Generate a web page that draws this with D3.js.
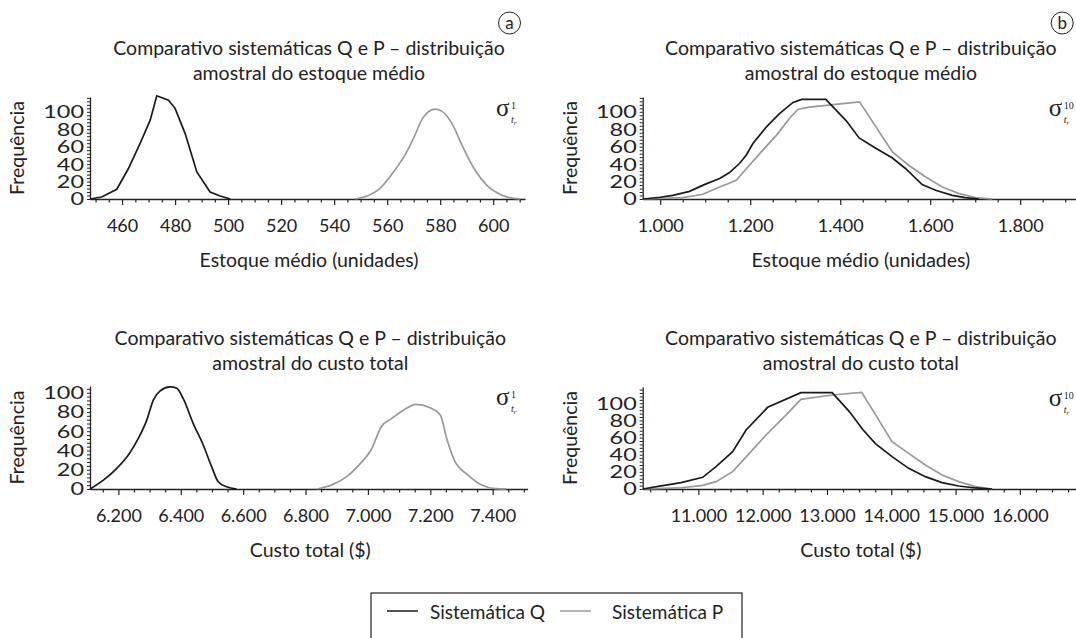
<!DOCTYPE html>
<html>
<head>
<meta charset="utf-8">
<script src="https://cdn.jsdelivr.net/npm/d3@7"></script>
<style>
  body { margin: 0; background: #fff; }
  svg { display: block; font-family: Lato, "Open Sans", sans-serif; }
</style>
</head>
<body>
<svg id="chart" width="1076" height="638"></svg>
<script>
// [valor, frequência]
const estoqueQ1 = [[447.9, 0], [452.3, 2.3], [458, 11.2], [462.4, 35], [466.8, 63.7], [470.6, 90.5], [473.1, 118.4], [477.5, 113.4], [480, 104], [483.8, 75], [488.2, 31], [493.2, 8], [497, 3.4], [500.8, 0]];
const estoqueP1 = [[548, 0], [552, 3], [557.4, 12.6], [562.4, 31], [567.4, 54], [569.9, 69.4], [573.7, 94], [578.1, 103], [580.6, 100.8], [584.4, 86.7], [588.8, 58], [593.2, 33], [597.6, 15.7], [602, 6.2], [606.4, 1.2], [610.2, 0]];

const estoqueQ10 = [[961, 0], [1000, 2], [1028, 4.2], [1065, 8.8], [1098, 16.5], [1132, 23.4], [1154, 30.3], [1176, 40.7], [1191, 50.2], [1206, 63.7], [1236, 82.8], [1265, 98], [1295, 110.8], [1314, 114.2], [1368, 114.2], [1413, 90], [1442, 70], [1478, 58.6], [1516, 47], [1545, 35], [1582, 16.5], [1612, 10], [1649, 4.2], [1678, 1.6], [1708, 0]];
const estoqueP10 = [[961, 0], [1050, 1.5], [1095, 5.4], [1124, 12], [1169, 21.5], [1198, 38.7], [1228, 56], [1258, 73], [1287, 92.4], [1306, 103], [1332, 105.4], [1390, 108.5], [1443, 111.5], [1516, 54], [1552, 38.7], [1590, 25.3], [1627, 13.8], [1664, 6.2], [1701, 1.6], [1738, 0]];

const custoQ1 = [[6109, 0], [6152, 9.3], [6195, 21.5], [6232, 35.3], [6264, 52.6], [6291, 71.6], [6312, 92.4], [6334, 102], [6366, 106], [6387, 104.6], [6408, 93.9], [6440, 68], [6472, 45.7], [6499, 23.2], [6520, 7.6], [6547, 2.4], [6579, 0]];
const custoP1 = [[6837, 0], [6888, 4.8], [6932, 12.8], [6976, 26.6], [7010, 40.5], [7043, 64.7], [7077, 73.4], [7115, 82], [7154, 88], [7199, 84.5], [7232, 76.8], [7254, 50.9], [7277, 30], [7321, 14.5], [7365, 4.2], [7410, 0.3], [7443, 0]];

const custoQ10 = [[10134, 0], [10445, 3.9], [10731, 7.4], [11067, 13.6], [11275, 26], [11533, 43.5], [11742, 68.8], [12078, 95.3], [12594, 112.4], [13081, 112.4], [13351, 90], [13550, 70], [13753, 53], [14012, 37.7], [14271, 24.1], [14530, 14.4], [14790, 7.4], [15048, 3.5], [15308, 1.2], [15568, 0]];
const custoP10 = [[10134, 0], [10705, 1.2], [11067, 4.3], [11275, 8.6], [11533, 20.2], [11793, 41.6], [12053, 63], [12415, 90.2], [12594, 104.6], [13081, 109.7], [13540, 112.8], [14012, 55.2], [14271, 41.6], [14530, 28], [14790, 16.3], [15048, 8.6], [15308, 2.7], [15568, 0]];

const ticksEstoque1 = d3.range(460, 601, 20);
const ticksEstoque10 = d3.range(1000, 1801, 200);
const ticksCusto1 = d3.range(6200, 7401, 200);
const ticksCusto10 = d3.range(11000, 16001, 1000);
const freqTicks = [0, 20, 40, 60, 80, 100];

const titleLine1 = 'Comparativo sistemáticas Q e P – distribuição';
const series = ['Sistemática Q', 'Sistemática P'];
const colorQ = '#1a1a1a';
const colorP = '#999999';

const ptBR = d3.formatLocale({ decimal: ',', thousands: '.', grouping: [3], currency: ['R$', ''] });
const fmt = ptBR.format(',d');

const panels = [
  { tag: 'a', sup: '1', line2: 'amostral do estoque médio', xLabel: 'Estoque médio (unidades)',
    q: estoqueQ1, p: estoqueP1, domain: [447.9, 612], left: 90, right: 525, top: 97, bottom: 199, yMax: 117,
    major: ticksEstoque1, minorStep: 5, smoothQ: false, smoothP: true },
  { tag: 'b', sup: '10', line2: 'amostral do estoque médio', xLabel: 'Estoque médio (unidades)',
    q: estoqueQ10, p: estoqueP10, domain: [961, 1924], left: 642.7, right: 1076, top: 97, bottom: 199, yMax: 117,
    major: ticksEstoque10, minorStep: 50, smoothQ: false, smoothP: false },
  { tag: null, sup: '1', line2: 'amostral do custo total', xLabel: 'Custo total ($)',
    q: custoQ1, p: custoP1, domain: [6109, 7512], left: 90, right: 527.6, top: 386, bottom: 489, yMax: 107,
    major: ticksCusto1, minorStep: 50, smoothQ: true, smoothP: true },
  { tag: null, sup: '10', line2: 'amostral do custo total', xLabel: 'Custo total ($)',
    q: custoQ10, p: custoP10, domain: [10134, 16873], left: 642.7, right: 1076, top: 387, bottom: 489, yMax: 119,
    major: ticksCusto10, minorStep: 250, smoothQ: false, smoothP: false },
];

const svg = d3.select('#chart');
const ink = '#222';

panels.forEach((pn) => {
  const g = svg.append('g');
  const x = d3.scaleLinear().domain(pn.domain).range([pn.left, pn.right]);
  const y = d3.scaleLinear().domain([0, pn.yMax]).range([pn.bottom, pn.top]);
  const cx = (pn.left + pn.right) / 2 + 1.5;

  // titles
  g.append('text').attr('x', cx).attr('y', pn.bottom - 144).attr('text-anchor', 'middle')
    .attr('font-size', 19.5).attr('fill', ink).text(titleLine1);
  g.append('text').attr('x', cx).attr('y', pn.bottom - 119).attr('text-anchor', 'middle')
    .attr('font-size', 19.5).attr('fill', ink).text(pn.line2);

  if (pn.tag) {
    const tx = pn.left + 419.5;
    g.append('circle').attr('cx', tx).attr('cy', 23).attr('r', 11)
      .attr('fill', 'none').attr('stroke', ink).attr('stroke-width', 1);
    g.append('text').attr('x', tx).attr('y', 29).attr('text-anchor', 'middle')
      .attr('font-size', 17).attr('fill', ink).text(pn.tag);
  }

  // x axis: minor then major
  const lo = Math.ceil(pn.domain[0] / pn.minorStep) * pn.minorStep;
  const minor = d3.range(lo, pn.domain[1], pn.minorStep).filter((v) => !pn.major.includes(v));
  const xMinor = g.append('g').attr('transform', `translate(0,${pn.bottom})`)
    .call(d3.axisBottom(x).tickValues(minor).tickSize(3.5).tickFormat(''));
  xMinor.select('.domain').remove();
  const xMajor = g.append('g').attr('transform', `translate(0,${pn.bottom})`)
    .call(d3.axisBottom(x).tickValues(pn.major).tickSize(6).tickSizeOuter(0).tickFormat(fmt));
  xMajor.selectAll('text').attr('y', 33).attr('dy', 0).attr('font-size', 18)
    .attr('font-family', 'Lato, sans-serif').attr('fill', ink);
  g.selectAll('.tick line').attr('stroke', ink).attr('stroke-width', 1.2);
  xMajor.select('.domain').attr('stroke', ink).attr('stroke-width', 1.3);

  // y axis
  const yAx = g.append('g').attr('transform', `translate(${pn.left},0)`)
    .call(d3.axisLeft(y).tickValues(d3.range(0, pn.yMax, 4)).tickSize(3).tickSizeOuter(0).tickFormat(''));
  yAx.select('.domain').attr('stroke', ink).attr('stroke-width', 1.3);
  yAx.selectAll('.tick line').attr('stroke', ink).attr('stroke-width', 1);
  freqTicks.forEach((v) => {
    g.append('g').attr('transform', `translate(${pn.left - 6},${y(v)}) scale(1.3,1)`)
      .append('text').attr('text-anchor', 'end').attr('dy', '0.36em')
      .attr('font-size', 18).attr('fill', ink).text(v);
  });

  g.append('text')
    .attr('transform', `translate(${pn.left - 66},${(pn.top + pn.bottom) / 2}) rotate(-90)`)
    .attr('text-anchor', 'middle').attr('font-size', 19.5).attr('fill', ink).text('Frequência');

  g.append('text').attr('x', cx).attr('y', pn.bottom + 68).attr('text-anchor', 'middle')
    .attr('font-size', 19.5).attr('fill', ink).text(pn.xLabel);

  // sigma label: σ with superscript and subscript t_r, each as its own text
  const sx = pn.left + 406;
  const sy = pn.top + 19;
  const serif = '"Liberation Serif", serif';
  g.append('text').attr('x', sx).attr('y', sy).attr('font-family', serif)
    .attr('font-size', 25).attr('fill', ink).text('σ');
  g.append('text').attr('x', sx + 15).attr('y', sy - 7).attr('font-family', serif)
    .attr('font-size', 10).attr('fill', ink).text(pn.sup);
  const sub = g.append('text').attr('x', sx + 15).attr('y', sy + 7).attr('font-family', serif)
    .attr('font-style', 'italic').attr('font-size', 10).attr('fill', ink);
  sub.append('tspan').text('t');
  sub.append('tspan').attr('dy', 2).attr('font-size', 7).text('r');

  // curves
  const lineFor = (smooth) => d3.line().x((d) => x(d[0])).y((d) => y(d[1]))
    .curve(smooth ? d3.curveMonotoneX : d3.curveLinear);
  g.append('path').datum(pn.p).attr('fill', 'none').attr('stroke', colorP)
    .attr('stroke-width', 1.7).attr('d', lineFor(pn.smoothP));
  g.append('path').datum(pn.q).attr('fill', 'none').attr('stroke', colorQ)
    .attr('stroke-width', 1.7).attr('d', lineFor(pn.smoothQ));
});

// legend
const leg = svg.append('g');
leg.append('rect').attr('x', 371).attr('y', 593).attr('width', 371).attr('height', 60)
  .attr('fill', 'none').attr('stroke', ink).attr('stroke-width', 1.2);
const legX = d3.scalePoint().domain(series).range([387, 560]);
series.forEach((name, i) => {
  const lx = legX(name);
  leg.append('line').attr('x1', lx).attr('x2', lx + 31).attr('y1', 611).attr('y2', 611)
    .attr('stroke', i === 0 ? colorQ : colorP).attr('stroke-width', 1.5);
  leg.append('text').attr('x', lx + 43 + i * 9).attr('y', 619).attr('font-size', 19)
    .attr('fill', ink).text(name);
});
</script>
</body>
</html>
